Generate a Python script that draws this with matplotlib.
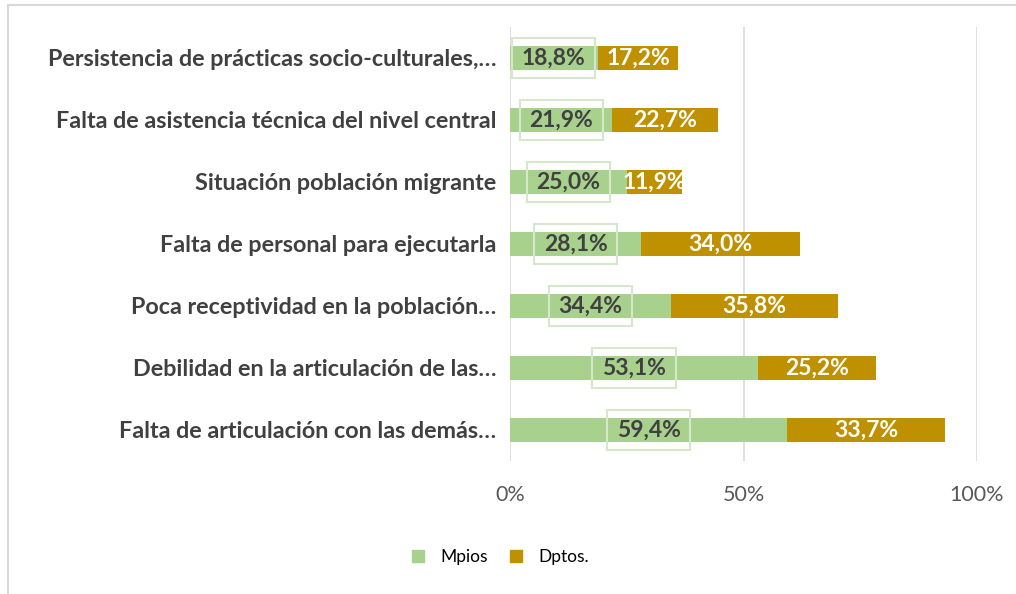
import numpy as np
import matplotlib.pyplot as plt
from matplotlib.lines import Line2D

categorias = ['Persistencia de prácticas socio-culturales,…',
              'Falta de asistencia técnica del nivel central',
              'Situación población migrante',
              'Falta de personal para ejecutarla',
              'Poca receptividad en la población…',
              'Debilidad en la articulación de las…',
              'Falta de articulación con las demás…']
mpios = [18.8, 21.9, 25.0, 28.1, 34.4, 53.1, 59.4]
dptos = [17.2, 22.7, 11.9, 34.0, 35.8, 25.2, 33.7]
series = ['Mpios', 'Dptos.']

verde = '#a9d18e'
ocre = '#bf9000'

plt.rcParams['font.family'] = ['Lato', 'DejaVu Sans']

fig = plt.figure(figsize=(10.16, 5.94), dpi=100)
ax = fig.add_axes([0.502, 0.224, 0.4596, 0.7306])

y = np.arange(len(categorias))[::-1]
m = np.array(mpios) / 100
d = np.array(dptos) / 100

ax.barh(y, m, height=0.39, color=verde, zorder=2)
ax.barh(y, d, left=m, height=0.39, color=ocre, zorder=2)

for yi, a, b in zip(y, m, d):
    ax.text(a / 2, yi, f'{a*100:.1f}%'.replace('.', ','), ha='center', va='center',
            fontsize=16.5, fontweight='bold', color='#404040', zorder=3,
            bbox=dict(boxstyle='square,pad=0.42', fc='none', ec='#d5e8cb', lw=1.5))
    ax.text(a + b / 2, yi, f'{b*100:.1f}%'.replace('.', ','), ha='center', va='center',
            fontsize=16.5, fontweight='bold', color='white', zorder=3)

ax.set_xlim(0, 1.0)
ax.set_ylim(-0.5, len(categorias) - 0.5)
ax.set_xticks([0, 0.5, 1.0])
ax.set_xticklabels(['0%', '50%', '100%'])
ax.set_yticks(y)
ax.set_yticklabels(categorias, fontsize=16.8, fontweight='bold', color='#404040')
ax.tick_params(axis='x', labelsize=15.5, labelcolor='#595959', length=0, pad=17)
ax.tick_params(axis='y', length=0, pad=10)
ax.grid(axis='x', color='#d9d9d9', lw=1.2, zorder=0)
for s in ax.spines.values():
    s.set_visible(False)

handles = [Line2D([], [], marker='s', ls='', ms=9, color=verde),
           Line2D([], [], marker='s', ls='', ms=9, color=ocre)]
fig.legend(handles, series, loc='center', bbox_to_anchor=(0.491, 0.062), ncol=2,
           frameon=False, fontsize=12.5, handlelength=1.0, handletextpad=0.8,
           columnspacing=1.1)

# marco del gráfico
fig.add_artist(Line2D([0.008, 0.008], [0.0, 0.992], color='#d9d9d9', lw=1.5))
fig.add_artist(Line2D([0.008, 1.0], [0.992, 0.992], color='#d9d9d9', lw=1.5))

fig.savefig('out.png', dpi=100)
